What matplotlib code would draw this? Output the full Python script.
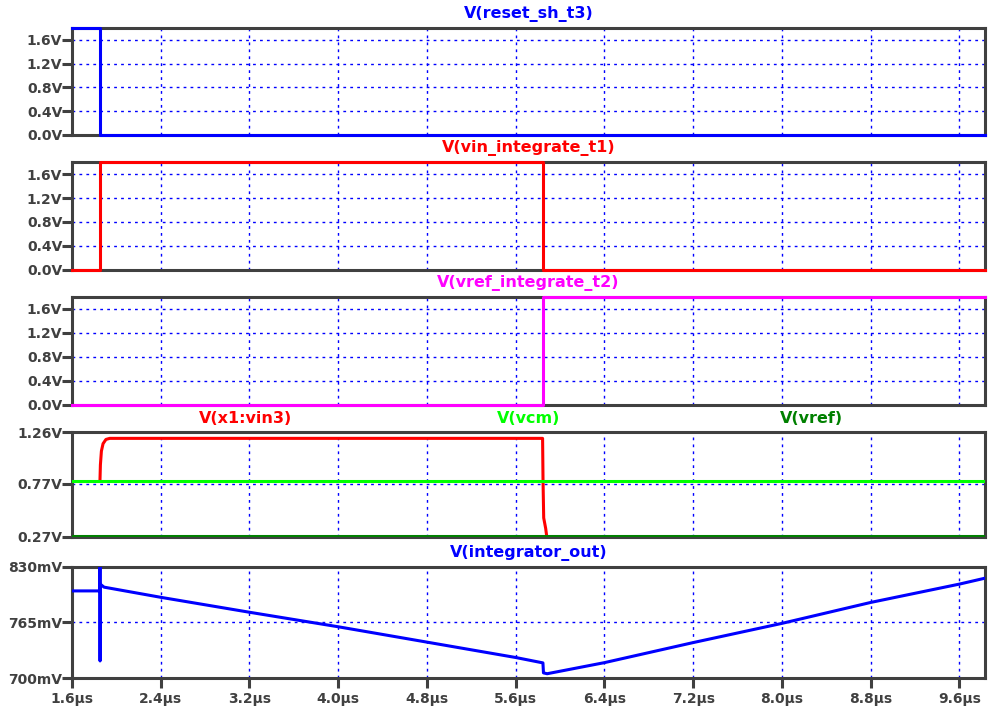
import matplotlib
matplotlib.use("Agg")
import matplotlib.pyplot as plt
from matplotlib.ticker import FixedLocator

# time axis (µs)
t_lo, t_hi = 1.6, 9.83
x_ticks = [1.6, 2.4, 3.2, 4.0, 4.8, 5.6, 6.4, 7.2, 8.0, 8.8, 9.6]

# digital control signals (V)
reset_t = [1.6, 1.852, 1.852, t_hi]
reset_v = [1.8, 1.8, 0.0, 0.0]

vin_int_t = [1.6, 1.852, 1.852, 5.845, 5.845, t_hi]
vin_int_v = [0.0, 0.0, 1.8, 1.8, 0.0, 0.0]

vref_int_t = [1.6, 5.845, 5.845, t_hi]
vref_int_v = [0.0, 0.0, 1.8, 1.8]

logic_ticks = [0.0, 0.4, 0.8, 1.2, 1.6]

# analog inputs (V)
vin3_t = [1.852, 1.856, 1.865, 1.88, 1.906, 1.94, 5.842, 5.846, 5.852, 5.87, 5.88]
vin3_v = [0.80, 0.95, 1.08, 1.15, 1.19, 1.20, 1.20, 0.80, 0.45, 0.35, 0.27]
vcm_t = [t_lo, t_hi]
vcm_v = [0.80, 0.80]
vref_t = [t_lo, t_hi]
vref_v = [0.28, 0.28]
analog_ticks = [0.27, 0.77, 1.26]

# integrator output (mV)
integ_t = [1.6, 1.851, 1.852, 1.853, 1.854, 1.889, 2.4, 3.2, 4.0, 4.8,
           5.6, 5.845, 5.85, 5.883, 6.4, 7.2, 8.0, 8.8, 9.6, 9.833]
integ_v = [802, 802, 840, 720, 810, 806.4, 794.5, 777, 760, 742,
           724, 717.7, 706, 705, 718, 741.5, 764, 788.5, 810, 817]
integ_ticks = [700, 765, 830]

blue = "#0000ff"
red = "#ff0000"
magenta = "#ff00ff"
lime = "#00ff00"
dkgreen = "#008000"
frame = "#404040"

fig = plt.figure(figsize=(9.89, 7.13), dpi=100)

left, right = 72 / 989, 985 / 989
# (top, bottom) of each panel in pixels
panels_px = [(28, 135), (162, 270), (297, 405), (432, 537), (567, 678)]
axes = []
for top, bot in panels_px:
    ax = fig.add_axes([left, 1 - bot / 713, right - left, (bot - top) / 713])
    axes.append(ax)


def style_axis(ax, yticks, fmt, show_x=False):
    ax.set_xlim(t_lo, t_hi)
    for s in ax.spines.values():
        s.set_color(frame)
        s.set_linewidth(2.2)
        s.set_zorder(3)
    ax.xaxis.set_major_locator(FixedLocator(x_ticks))
    ax.yaxis.set_major_locator(FixedLocator(yticks))
    ax.set_yticklabels([fmt(v) for v in yticks], fontsize=10, fontweight="bold",
                       color=frame)
    ax.tick_params(axis="y", direction="out", length=7, width=2.2, color=frame, pad=0)
    if show_x:
        ax.set_xticklabels([f"{v:.1f}µs" for v in x_ticks], fontsize=10,
                           fontweight="bold", color=frame)
        ax.tick_params(axis="x", direction="out", length=7, width=2.2, color=frame, pad=3)
    else:
        ax.tick_params(axis="x", length=0, labelbottom=False)
    ax.grid(True, color=blue, linestyle=(0, (2, 3)), linewidth=1.0)
    ax.set_axisbelow(True)


def label(ax, text, color, xpos=0.5):
    ax.annotate(text, xy=(xpos, 1), xycoords="axes fraction", xytext=(0, 10),
                textcoords="offset points", ha="center", va="center",
                fontsize=11.5, fontweight="bold", color=color)


volt = lambda v: f"{v:.1f}V"

ax = axes[0]
ax.plot(reset_t, reset_v, color=blue, lw=2.2, clip_on=False, zorder=4)
ax.set_ylim(0, 1.8)
style_axis(ax, logic_ticks, volt)
label(ax, "V(reset_sh_t3)", blue)

ax = axes[1]
ax.plot(vin_int_t, vin_int_v, color=red, lw=2.2, clip_on=False, zorder=4)
ax.set_ylim(0, 1.8)
style_axis(ax, logic_ticks, volt)
label(ax, "V(vin_integrate_t1)", red)

ax = axes[2]
ax.plot(vref_int_t, vref_int_v, color=magenta, lw=2.2, clip_on=False, zorder=4)
ax.set_ylim(0, 1.8)
style_axis(ax, logic_ticks, volt)
label(ax, "V(vref_integrate_t2)", magenta)

ax = axes[3]
ax.plot(vin3_t, vin3_v, color=red, lw=2.2, zorder=4)
ax.plot(vcm_t, vcm_v, color=lime, lw=2.2, zorder=4)
ax.plot(vref_t, vref_v, color=dkgreen, lw=2.2, zorder=4)
ax.set_ylim(0.27, 1.26)
style_axis(ax, analog_ticks, lambda v: f"{v:.2f}V")
label(ax, "V(x1:vin3)", red, 0.19)
label(ax, "V(vcm)", lime, 0.50)
label(ax, "V(vref)", dkgreen, 0.81)

ax = axes[4]
ax.plot(integ_t, integ_v, color=blue, lw=2.2, zorder=4)
ax.set_ylim(700, 830)
style_axis(ax, integ_ticks, lambda v: f"{v:.0f}mV", show_x=True)
label(ax, "V(integrator_out)", blue)

fig.savefig("out.png", dpi=100)
